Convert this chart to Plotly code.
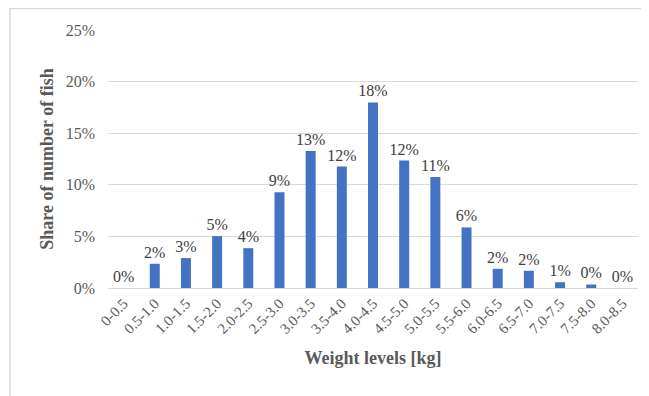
import plotly.graph_objects as go

categories = ["0-0.5", "0.5-1.0", "1.0-1.5", "1.5-2.0", "2.0-2.5", "2.5-3.0", "3.0-3.5",
              "3.5-4.0", "4.0-4.5", "4.5-5.0", "5.0-5.5", "5.5-6.0", "6.0-6.5", "6.5-7.0",
              "7.0-7.5", "7.5-8.0", "8.0-8.5"]
shares = [0.0, 0.0235, 0.0290, 0.0503, 0.0386, 0.0927, 0.1328, 0.1177, 0.1798, 0.1235,
          0.1076, 0.0587, 0.0186, 0.0167, 0.0056, 0.0034, 0.0]
y_ticks = [0, 0.05, 0.10, 0.15, 0.20, 0.25]
y_tick_labels = ["0%", "5%", "10%", "15%", "20%", "25%"]

FONT = "Liberation Serif, Times New Roman, serif"

fig = go.Figure(go.Bar(
    x=categories, y=shares,
    marker=dict(color="#4472C4", line=dict(width=0)),
    texttemplate="%{y:.0%}", textposition="outside",
    constraintext="none",
    textfont=dict(family=FONT, size=16, color="#404040"),
    cliponaxis=False,
))

fig.update_layout(
    width=641, height=388,
    margin=dict(l=100, r=11, t=22, b=108, autoexpand=False),
    paper_bgcolor="white", plot_bgcolor="white",
    bargap=0.68,
    showlegend=False,
    font=dict(family=FONT, color="#595959"),
)
fig.update_xaxes(
    tickangle=-45, tickfont=dict(family=FONT, size=15, color="#595959"),
    showline=True, linecolor="#d9d9d9", linewidth=1, showgrid=False,
    automargin=False,
    title=dict(text="<b>Weight levels [kg]</b>", font=dict(family=FONT, size=18, color="#595959"), standoff=15),
)
fig.update_yaxes(
    range=[0, 0.25], tickvals=y_ticks, ticktext=y_tick_labels,
    tickfont=dict(family=FONT, size=16, color="#595959"),
    showgrid=True, gridcolor="#d9d9d9", gridwidth=1, zeroline=False,
    ticklabelstandoff=12, automargin=False,
    title=dict(text="<b>Share of number of fish</b>", font=dict(family=FONT, size=18, color="#595959"), standoff=7),
)
fig.add_shape(type="rect", xref="paper", yref="paper",
              x0=-0.185, x1=1.017, y0=-0.6, y1=1.083,
              line=dict(color="#d9d9d9", width=1.5), fillcolor="rgba(0,0,0,0)", layer="below")

fig.write_html("out.html")
